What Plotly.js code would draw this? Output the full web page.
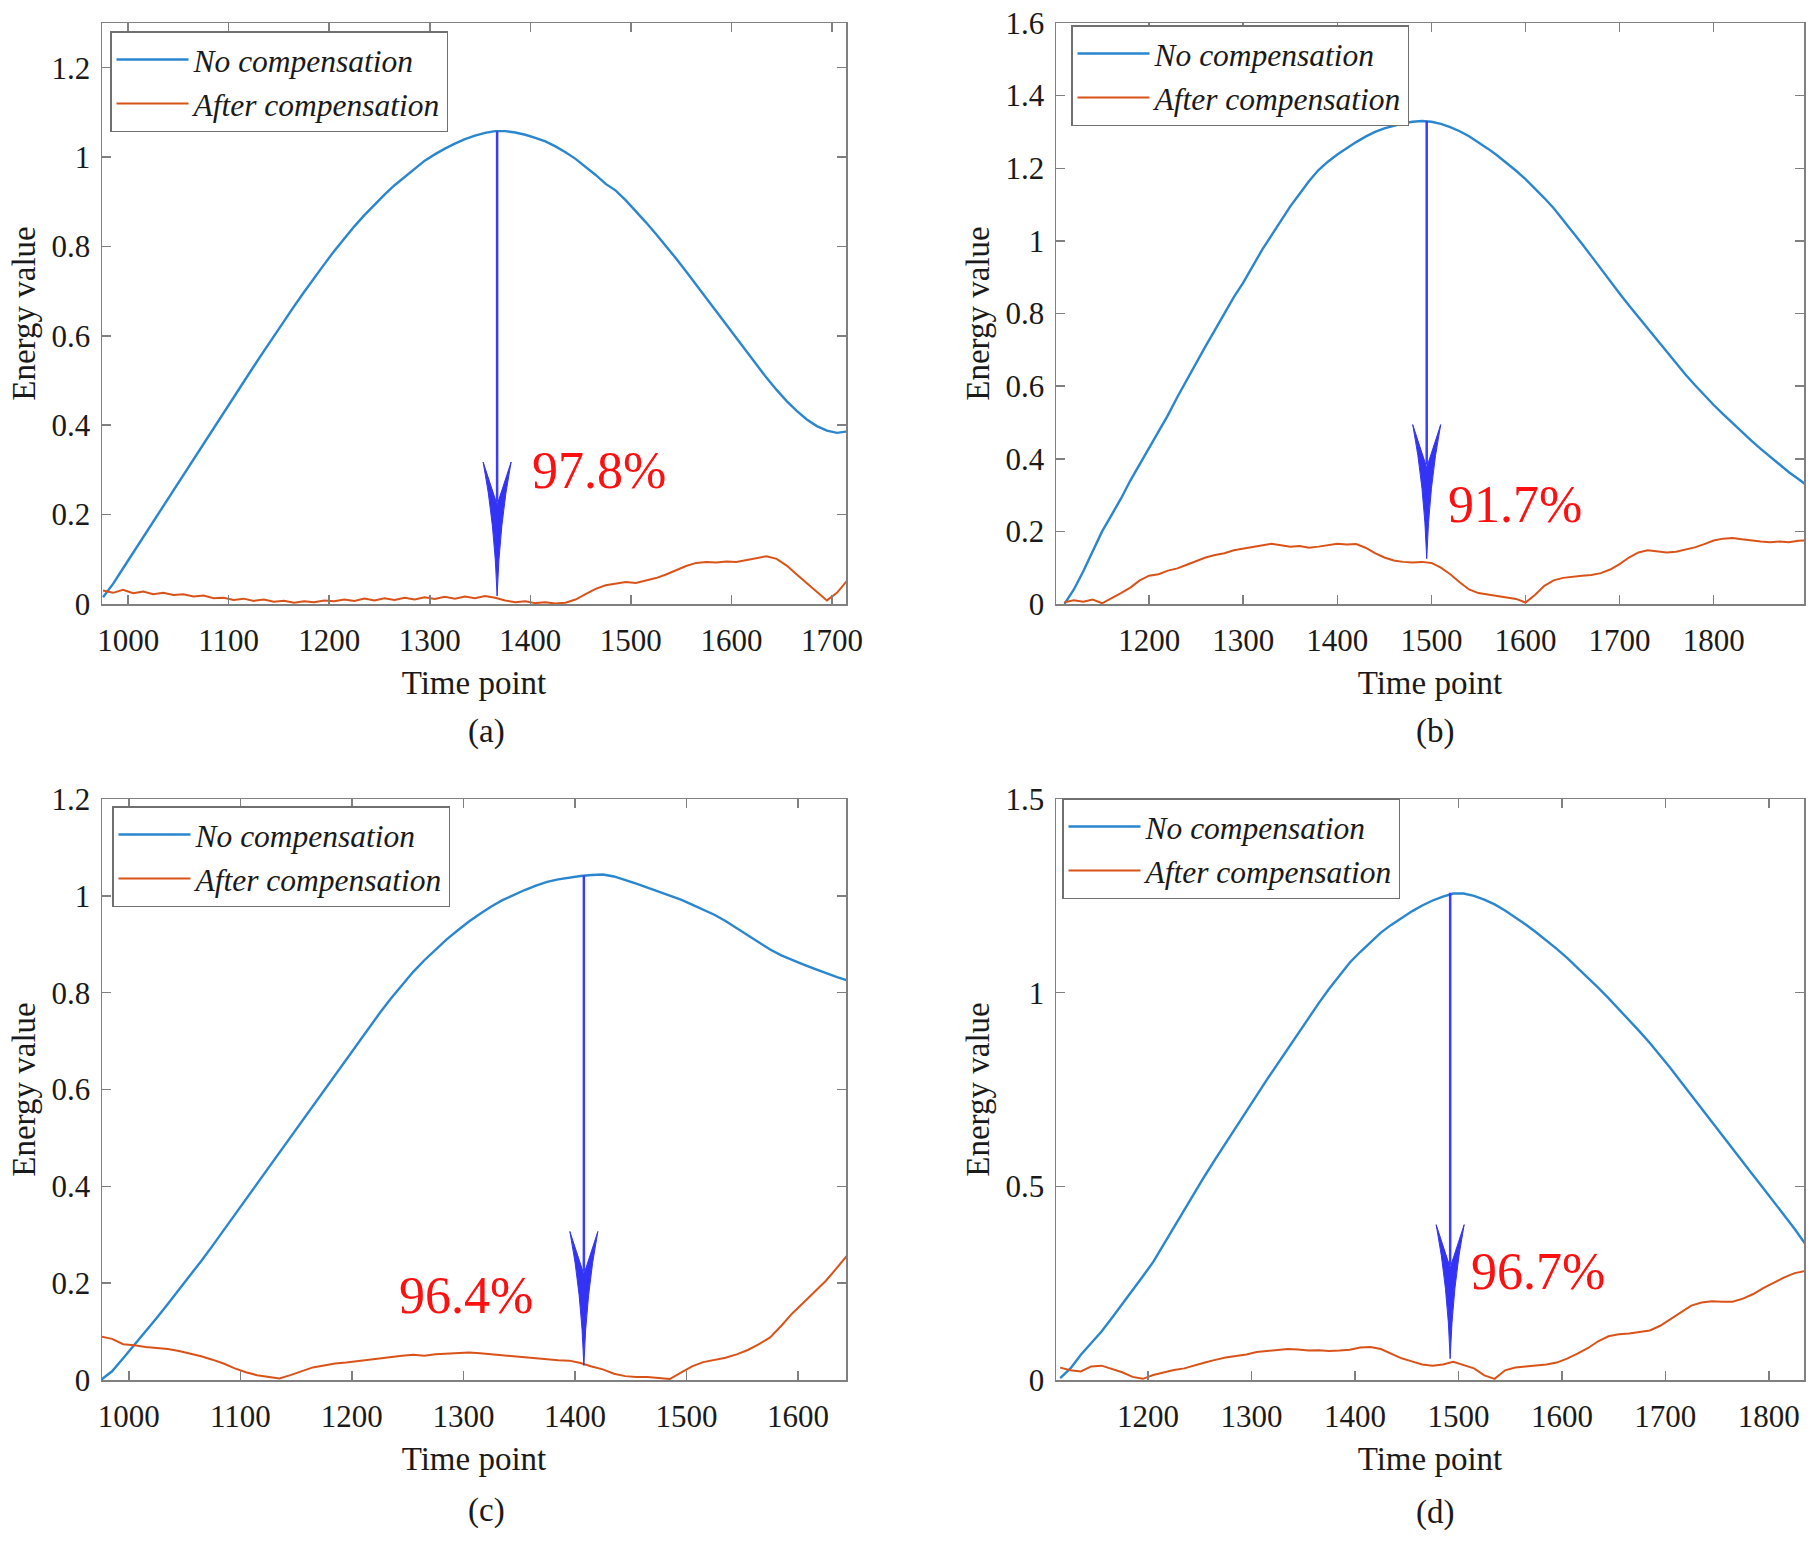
<!DOCTYPE html>
<html>
<head>
<meta charset="utf-8">
<script src="https://cdn.plot.ly/plotly-3.0.1.min.js"></script>
<style>html,body{margin:0;padding:0;background:#fff}#chart{width:1814px;height:1543px}</style>
</head>
<body>
<div id="chart"></div>
<script>
// ---------- data ----------
const seriesNames = ["No compensation", "After compensation"];
const panelLabels = ["(a)", "(b)", "(c)", "(d)"];
const percentLabels = ["97.8%", "91.7%", "96.4%", "96.7%"];

// Panel (a)
const timeA = [975,985,995,1005,1015,1025,1035,1045,1055,1065,1075,1085,1095,1105,1115,1125,1135,1145,1155,1165,1175,1185,1195,1205,1215,1225,1235,1245,1255,1265,1275,1285,1295,1305,1315,1325,1335,1345,1355,1365,1375,1385,1395,1405,1415,1425,1435,1445,1455,1465,1475,1485,1495,1505,1515,1525,1535,1545,1555,1565,1575,1585,1595,1605,1615,1625,1635,1645,1655,1665,1675,1685,1695,1705,1715];
const noCompA = [0.015,0.045,0.08,0.115,0.15,0.185,0.22,0.255,0.29,0.325,0.36,0.395,0.43,0.462,0.497,0.532,0.566,0.6,0.633,0.666,0.698,0.73,0.76,0.79,0.818,0.845,0.87,0.894,0.916,0.937,0.956,0.975,0.992,1.006,1.019,1.03,1.04,1.048,1.054,1.058,1.058,1.055,1.05,1.043,1.035,1.024,1.011,0.996,0.979,0.96,0.94,0.925,0.903,0.879,0.854,0.828,0.801,0.773,0.744,0.714,0.684,0.654,0.624,0.594,0.564,0.535,0.506,0.479,0.454,0.432,0.413,0.398,0.388,0.383,0.386];
const afterCompA = [0.03,0.025,0.032,0.024,0.028,0.022,0.025,0.02,0.022,0.017,0.019,0.013,0.014,0.009,0.012,0.007,0.01,0.005,0.007,0.003,0.006,0.004,0.008,0.006,0.01,0.007,0.012,0.008,0.013,0.009,0.014,0.01,0.015,0.011,0.016,0.012,0.017,0.013,0.018,0.014,0.008,0.004,0.006,0.002,0.004,0.001,0.003,0.01,0.022,0.034,0.042,0.046,0.049,0.047,0.052,0.058,0.066,0.076,0.085,0.092,0.094,0.093,0.095,0.094,0.098,0.102,0.107,0.101,0.086,0.066,0.046,0.026,0.008,0.025,0.052];

// Panel (b)
const timeB = [1110,1120,1130,1140,1150,1160,1170,1180,1190,1200,1210,1220,1230,1240,1250,1260,1270,1280,1290,1300,1310,1320,1330,1340,1350,1360,1370,1380,1390,1400,1410,1420,1430,1440,1450,1460,1470,1480,1490,1500,1510,1520,1530,1540,1550,1560,1570,1580,1590,1600,1610,1620,1630,1640,1650,1660,1670,1680,1690,1700,1710,1720,1730,1740,1750,1760,1770,1780,1790,1800,1810,1820,1830,1840,1850,1860,1870,1880,1890,1900];
const noCompB = [0.0,0.04,0.09,0.145,0.2,0.245,0.29,0.34,0.385,0.43,0.475,0.52,0.57,0.618,0.665,0.71,0.755,0.8,0.845,0.885,0.93,0.975,1.015,1.055,1.095,1.13,1.165,1.195,1.218,1.238,1.256,1.272,1.287,1.3,1.31,1.318,1.324,1.328,1.33,1.328,1.322,1.313,1.302,1.288,1.272,1.254,1.235,1.215,1.193,1.17,1.145,1.118,1.09,1.058,1.025,0.992,0.958,0.923,0.888,0.855,0.822,0.79,0.757,0.725,0.693,0.662,0.632,0.603,0.575,0.548,0.523,0.498,0.474,0.45,0.427,0.405,0.384,0.363,0.344,0.325];
const afterCompB = [0.005,0.01,0.006,0.012,0.002,0.015,0.03,0.045,0.065,0.078,0.082,0.092,0.098,0.108,0.118,0.128,0.135,0.14,0.148,0.152,0.158,0.16,0.166,0.162,0.158,0.16,0.155,0.158,0.162,0.166,0.164,0.165,0.155,0.14,0.128,0.12,0.116,0.114,0.116,0.113,0.1,0.082,0.06,0.04,0.03,0.026,0.022,0.02,0.014,0.004,0.025,0.05,0.065,0.072,0.076,0.078,0.08,0.085,0.095,0.11,0.128,0.142,0.148,0.146,0.142,0.144,0.15,0.156,0.165,0.175,0.18,0.182,0.178,0.174,0.172,0.17,0.172,0.17,0.174,0.175];

// Panel (c)
const timeC = [975,985,995,1005,1015,1025,1035,1045,1055,1065,1075,1085,1095,1105,1115,1125,1135,1145,1155,1165,1175,1185,1195,1205,1215,1225,1235,1245,1255,1265,1275,1285,1295,1305,1315,1325,1335,1345,1355,1365,1375,1385,1395,1405,1415,1425,1435,1445,1455,1465,1475,1485,1495,1505,1515,1525,1535,1545,1555,1565,1575,1585,1595,1605,1615,1625,1635,1645];
const noCompC = [0.0,0.018,0.045,0.072,0.1,0.128,0.157,0.186,0.216,0.246,0.277,0.309,0.341,0.374,0.406,0.438,0.471,0.503,0.535,0.567,0.599,0.631,0.663,0.695,0.727,0.758,0.788,0.816,0.843,0.867,0.889,0.91,0.929,0.947,0.963,0.978,0.991,1.002,1.012,1.021,1.029,1.034,1.038,1.041,1.043,1.044,1.04,1.033,1.025,1.017,1.009,1.0,0.992,0.982,0.972,0.961,0.948,0.933,0.918,0.903,0.889,0.877,0.867,0.858,0.849,0.84,0.832,0.825];
const afterCompC = [0.09,0.085,0.074,0.072,0.068,0.066,0.064,0.06,0.055,0.049,0.042,0.034,0.024,0.016,0.01,0.006,0.003,0.01,0.018,0.026,0.03,0.034,0.036,0.039,0.041,0.045,0.048,0.05,0.052,0.05,0.053,0.054,0.056,0.057,0.055,0.053,0.05,0.048,0.046,0.045,0.042,0.041,0.04,0.035,0.028,0.022,0.013,0.008,0.006,0.006,0.004,0.002,0.015,0.028,0.037,0.042,0.046,0.053,0.062,0.074,0.088,0.112,0.138,0.16,0.183,0.205,0.232,0.26];

// Panel (d)
const timeD = [1115,1125,1135,1145,1155,1165,1175,1185,1195,1205,1215,1225,1235,1245,1255,1265,1275,1285,1295,1305,1315,1325,1335,1345,1355,1365,1375,1385,1395,1405,1415,1425,1435,1445,1455,1465,1475,1485,1495,1505,1515,1525,1535,1545,1555,1565,1575,1585,1595,1605,1615,1625,1635,1645,1655,1665,1675,1685,1695,1705,1715,1725,1735,1745,1755,1765,1775,1785,1795,1805,1815,1825,1835];
const noCompD = [0.005,0.03,0.065,0.095,0.125,0.16,0.195,0.232,0.268,0.305,0.35,0.395,0.44,0.485,0.528,0.57,0.612,0.653,0.694,0.735,0.776,0.816,0.856,0.896,0.935,0.973,1.01,1.045,1.078,1.105,1.13,1.155,1.175,1.193,1.21,1.225,1.238,1.248,1.256,1.256,1.25,1.24,1.228,1.212,1.195,1.176,1.156,1.135,1.113,1.09,1.065,1.04,1.013,0.986,0.958,0.93,0.9,0.87,0.838,0.805,0.77,0.735,0.7,0.665,0.63,0.595,0.562,0.528,0.494,0.46,0.425,0.39,0.352];
const afterCompD = [0.032,0.025,0.022,0.035,0.037,0.028,0.02,0.008,0.003,0.013,0.02,0.026,0.03,0.038,0.045,0.052,0.058,0.062,0.066,0.072,0.075,0.078,0.08,0.079,0.076,0.077,0.075,0.076,0.078,0.084,0.085,0.08,0.068,0.056,0.048,0.04,0.037,0.04,0.047,0.038,0.03,0.012,0.003,0.025,0.032,0.035,0.037,0.04,0.045,0.055,0.068,0.082,0.1,0.113,0.118,0.12,0.124,0.128,0.14,0.157,0.175,0.192,0.2,0.203,0.202,0.202,0.21,0.222,0.238,0.252,0.265,0.276,0.281];

// x / y tick values of each panel
const xTicksA = [1000,1100,1200,1300,1400,1500,1600,1700];
const xTicksB = [1200,1300,1400,1500,1600,1700,1800];
const xTicksC = [1000,1100,1200,1300,1400,1500,1600];
const xTicksD = [1200,1300,1400,1500,1600,1700,1800];
const yTicksA = [0,0.2,0.4,0.6,0.8,1,1.2];
const yTicksB = [0,0.2,0.4,0.6,0.8,1,1.2,1.4,1.6];
const yTicksC = [0,0.2,0.4,0.6,0.8,1,1.2];
const yTicksD = [0,0.5,1,1.5];

// ---------- styling / layout ----------
const W = 1814, H = 1543;
const FONT = "Liberation Serif, Times New Roman, serif";
const BLUE = "#2a86cf", ORANGE = "#d95319", ARROW = "#3c3cff", RED = "#ff1010";

const panels = [
  {t: timeA, a: noCompA, b: afterCompA, xr: [974, 1714], yr: [0, 1.3], xt: xTicksA, yt: yTicksA,
   xd: [102/W, 846/W], yd: [1-604/H, 1-23/H], leg: [110/W, 1-31/H],
   arrow: {x: 1367, top: 1.058, tip: 0.018}, pct: {x: 1400, y: 0.298, anchor: "left"},
   lab: [486/W, 1-731/H]},
  {t: timeB, a: noCompB, b: afterCompB, xr: [1101, 1896], yr: [0, 1.6], xt: xTicksB, yt: yTicksB,
   xd: [1056/W, 1804/W], yd: [1-604/H, 1-23/H], leg: [1071/W, 1-25/H],
   arrow: {x: 1495, top: 1.33, tip: 0.125}, pct: {x: 1516, y: 0.275, anchor: "left"},
   lab: [1435/W, 1-731/H]},
  {t: timeC, a: noCompC, b: afterCompC, xr: [976, 1643], yr: [0, 1.2], xt: xTicksC, yt: yTicksC,
   xd: [102/W, 846/W], yd: [1-1380/H, 1-799/H], leg: [112/W, 1-806/H],
   arrow: {x: 1408, top: 1.042, tip: 0.03}, pct: {x: 1302, y: 0.175, anchor: "center"},
   lab: [486/W, 1-1510/H]},
  {t: timeD, a: noCompD, b: afterCompD, xr: [1111, 1834], yr: [0, 1.5], xt: xTicksD, yt: yTicksD,
   xd: [1056/W, 1804/W], yd: [1-1380/H, 1-799/H], leg: [1062/W, 1-798/H],
   arrow: {x: 1492, top: 1.258, tip: 0.055}, pct: {x: 1510, y: 0.28, anchor: "left"},
   lab: [1435/W, 1-1512/H]}
];

const traces = [];
const layout = {
  width: W, height: H,
  margin: {l: 0, r: 0, t: 0, b: 0},
  paper_bgcolor: "#fff", plot_bgcolor: "#fff",
  font: {family: FONT, color: "#1a1a1a", size: 30},
  showlegend: true,
  shapes: [], annotations: []
};

panels.forEach((p, i) => {
  const n = i === 0 ? "" : String(i + 1);
  const xa = "x" + n, ya = "y" + n;
  const legName = "legend" + n;
  traces.push({x: p.t, y: p.a, type: "scatter", mode: "lines", name: seriesNames[0],
    xaxis: xa, yaxis: ya, legend: legName, line: {color: BLUE, width: 2.4}});
  traces.push({x: p.t, y: p.b, type: "scatter", mode: "lines", name: seriesNames[1],
    xaxis: xa, yaxis: ya, legend: legName, line: {color: ORANGE, width: 2}});

  const axCommon = {showgrid: false, zeroline: false, showline: true, linecolor: "#808080", linewidth: 1.5,
    mirror: "ticks", ticks: "inside", ticklen: 9, tickwidth: 1.5, tickcolor: "#808080",
    tickfont: {family: FONT, size: 31, color: "#1a1a1a"}, tickmode: "array", fixedrange: true};
  layout["xaxis" + n] = Object.assign({}, axCommon, {
    domain: p.xd, range: p.xr, anchor: ya, tickvals: p.xt, ticklabelstandoff: 8,
    title: {text: "Time point", font: {family: FONT, size: 33, color: "#1a1a1a"}, standoff: 14}
  });
  layout["yaxis" + n] = Object.assign({}, axCommon, {
    domain: p.yd, range: p.yr, anchor: xa, tickvals: p.yt, ticklabelstandoff: 4,
    title: {text: "Energy value", font: {family: FONT, size: 33, color: "#1a1a1a"}, standoff: 6}
  });
  layout[legName] = {x: p.leg[0], y: p.leg[1], xanchor: "left", yanchor: "top",
    bgcolor: "#fff", bordercolor: "#707070", borderwidth: 1.5,
    font: {family: FONT, size: 31.5, color: "#1a1a1a", style: "italic"},
    itemwidth: 72, tracegroupgap: 0};

  // arrow: shaft + barbed head computed from pixel sizes
  const pxX = (p.xd[1] - p.xd[0]) * W / (p.xr[1] - p.xr[0]);
  const pxY = (p.yd[1] - p.yd[0]) * H / (p.yr[1] - p.yr[0]);
  const L = 134, HW = 14;
  const ax = p.arrow.x, tip = p.arrow.tip;
  const X = dx => (ax + dx / pxX).toFixed(3);
  const Y = dy => (tip + dy / pxY).toFixed(4);
  layout.shapes.push({type: "line", xref: xa, yref: ya, x0: ax, x1: ax, y0: p.arrow.top, y1: tip + 0.7 * L / pxY,
    line: {color: ARROW, width: 2.5}});
  const path = `M${X(0)},${Y(0)} Q${X(2.5)},${Y(0.55 * L)} ${X(HW)},${Y(L)} L${X(0)},${Y(0.68 * L)} L${X(-HW)},${Y(L)} Q${X(-2.5)},${Y(0.55 * L)} ${X(0)},${Y(0)} Z`;
  layout.shapes.push({type: "path", xref: xa, yref: ya, path: path, fillcolor: "#3333f5",
    line: {color: "#3333f5", width: 1}});

  layout.annotations.push({xref: xa, yref: ya, x: p.pct.x, y: p.pct.y, xanchor: p.pct.anchor, yanchor: "middle",
    text: percentLabels[i], showarrow: false, font: {family: FONT, size: 52, color: RED}});
  layout.annotations.push({xref: "paper", yref: "paper", x: p.lab[0], y: p.lab[1], xanchor: "center", yanchor: "middle",
    text: panelLabels[i], showarrow: false, font: {family: FONT, size: 33, color: "#1a1a1a"}});
});

Plotly.newPlot("chart", traces, layout, {displayModeBar: false, staticPlot: true});
</script>
</body>
</html>
